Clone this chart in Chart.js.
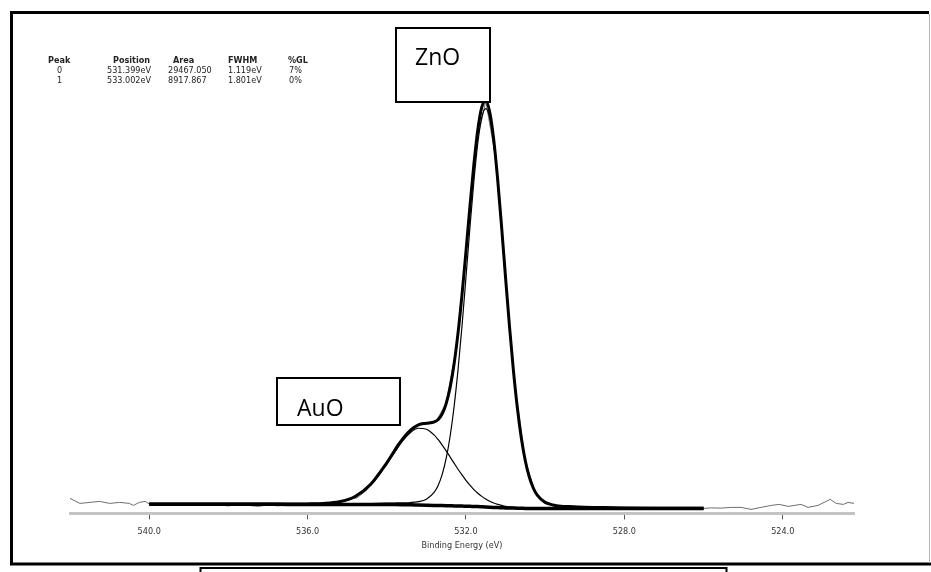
<!DOCTYPE html>
<html><head><meta charset="utf-8">
<script src="https://cdn.jsdelivr.net/npm/chart.js@4/dist/chart.umd.min.js"></script>
<style>
html,body{margin:0;padding:0;background:#fff;}
#wrap{position:relative;width:931px;height:572px;}
canvas{display:block;}
</style></head><body>
<div id="wrap"><canvas id="c" width="931" height="572"></canvas></div>
<script>
// ---- data (binding energy in eV, intensity in counts) ----
const modelEnergy = [540,539,538,537,536.5,536,535.6,535.2,534.8,534.4,534.0,533.8,533.6,533.4,533.2,533.0,532.8,532.7,532.6,532.5,532.4,532.3,532.2,532.1,532.0,531.9,531.8,531.7,531.6,531.5,531.4,531.3,531.2,531.1,531.0,530.9,530.8,530.7,530.6,530.5,530.4,530.3,530.2,530.0,529.8,529.6,529.4,529.0,528.5,528,527,526];
const backgroundCounts = [92,92,91,91,90,90,90,90,90,89,89,88,87,86,84,82,80,79,78,77,76,75,74,73,72,71,69,68,66,64,62,60,58,57,55,54,53,52,51,50,50,50,50,50,50,49,49,49,49,48,48,48];
const peak0ZnOCounts = [93,94,93,94,94,94,95,96,98,99,102,104,106,109,118,142,212,282,390,549,771,1066,1436,1873,2357,2855,3319,3703,3956,4044,3952,3695,3308,2841,2340,1854,1415,1043,746,522,362,253,182,110,84,72,68,62,59,55,52,51];
const peak1AuOCounts = [92,92,91,91,90,91,94,110,161,283,492,612,724,809,851,841,782,736,683,625,564,502,441,384,330,282,238,202,170,143,121,104,90,80,71,65,60,57,54,52,51,51,50,50,50,49,49,49,49,48,48,48];
const envelopeCounts = [93,94,93,94,94,95,99,116,169,293,505,628,743,832,885,901,914,939,995,1097,1259,1493,1803,2184,2615,3066,3488,3837,4060,4123,4011,3739,3340,2864,2356,1865,1422,1048,749,524,363,254,182,110,84,72,68,62,59,55,52,51];
const rawEnergy = [542.0,541.75,541.5,541.25,541.0,540.75,540.5,540.4,540.25,540.1,540.0,539.75,539.5,539.25,539.0,538.75,538.5,538.25,538.0,537.75,537.5,537.25,537.0,536.75,536.5,536.25,536.0,535.75,535.5,535.25,535.0,534.75,534.5,534.25,534.0,533.75,533.5,533.25,533.0,532.75,532.5,532.25,532.0,531.75,531.5,531.25,531.0,530.75,530.5,530.25,530.0,529.75,529.5,529.25,529.0,528.75,528.5,528.25,528.0,527.75,527.5,527.25,527.0,526.75,526.5,526.25,526.0,525.8,525.56,525.3,525.05,524.8,524.55,524.29,524.09,523.86,523.54,523.36,523.11,522.8,522.65,522.47,522.35,522.2];
const rawCounts = [150,100,110,120,100,110,100,80,110,120,95,90,85,95,90,80,95,85,75,90,80,70,85,75,90,80,95,90,105,115,140,155,235,385,505,685,790,875,905,925,1100,1640,2610,3670,4120,3550,2350,1230,520,215,110,80,70,60,65,55,60,50,60,55,50,60,45,55,50,60,50,55,53,60,60,40,60,80,90,70,90,60,80,140,100,90,110,100];
const tickValues = [540,536,532,528,524];
const axisTitle = 'Binding Energy (eV)';
const tableHeader = ['Peak','Position','Area','FWHM','%GL'];
const tableRows = [
  ['0','531.399eV','29467.050','1.119eV','7%'],
  ['1','533.002eV','8917.867','1.801eV','0%']
];
const peakLabels = ['ZnO','AuO'];

// ---- build chart ----
const pts = (xs, ys) => xs.map((x, i) => ({x: x, y: ys[i]}));
const NARROW = '"Liberation Sans Narrow","DejaVu Sans Condensed","Arial Narrow",sans-serif';
const BOXFONT = '"Open Sans","Noto Sans",sans-serif';

const decor = {
  id: 'decor',
  beforeDraw(chart) {
    const ctx = chart.ctx;
    ctx.save(); ctx.fillStyle = '#fff'; ctx.fillRect(0, 0, chart.width, chart.height); ctx.restore();
  },
  afterDraw(chart) {
    const ctx = chart.ctx;
    ctx.save();
    // fit-result table
    ctx.fillStyle = '#222';
    ctx.textBaseline = 'alphabetic';
    ctx.textAlign = 'left';
    const hx = [48, 113, 173, 228, 288];
    const rx = [57, 107, 168, 228, 289];
    ctx.font = 'bold 9px ' + NARROW;
    tableHeader.forEach((t, i) => ctx.fillText(t, hx[i], 63));
    ctx.font = '9px ' + NARROW;
    tableRows.forEach((row, j) => row.forEach((t, i) => ctx.fillText(t, rx[i], 73 + 10 * j)));

    // annotation boxes
    const boxes = [
      {x: 396, y: 28, w: 94, h: 74, tx: 415, ty: 65},
      {x: 277, y: 378, w: 123, h: 47, tx: 297, ty: 416}
    ];
    boxes.forEach((b, i) => {
      ctx.fillStyle = '#fff';
      ctx.fillRect(b.x, b.y, b.w, b.h);
      ctx.strokeStyle = '#000'; ctx.lineWidth = 2;
      ctx.strokeRect(b.x, b.y, b.w, b.h);
      ctx.fillStyle = '#000';
      ctx.font = '23px ' + BOXFONT;
      ctx.fillText(peakLabels[i], b.tx, b.ty);
    });

    // outer frame
    ctx.strokeStyle = '#000'; ctx.lineWidth = 3; ctx.lineCap = 'butt';
    ctx.beginPath();
    ctx.moveTo(10, 12.5); ctx.lineTo(929, 12.5);
    ctx.moveTo(11.5, 11); ctx.lineTo(11.5, 565.5);
    ctx.moveTo(10, 564); ctx.lineTo(931, 564);
    ctx.stroke();
    ctx.strokeStyle = '#b4b4b4'; ctx.lineWidth = 1;
    ctx.beginPath(); ctx.moveTo(929.5, 14); ctx.lineTo(929.5, 563); ctx.stroke();
    // lower box top edge
    ctx.strokeStyle = '#000'; ctx.lineWidth = 2;
    ctx.beginPath();
    ctx.moveTo(200, 568); ctx.lineTo(727, 568);
    ctx.moveTo(200.5, 567); ctx.lineTo(200.5, 572);
    ctx.moveTo(726.5, 567); ctx.lineTo(726.5, 572);
    ctx.stroke();
    ctx.restore();
  }
};

new Chart(document.getElementById('c'), {
  type: 'line',
  data: {
    datasets: [
      {label: 'Envelope', data: pts(modelEnergy, envelopeCounts), borderColor: '#000', borderWidth: 3, pointRadius: 0, cubicInterpolationMode: 'monotone', fill: false, order: 0},
      {label: 'Peak 0', data: pts(modelEnergy, peak0ZnOCounts), borderColor: '#000', borderWidth: 1.2, pointRadius: 0, cubicInterpolationMode: 'monotone', fill: false, order: 1},
      {label: 'Peak 1', data: pts(modelEnergy, peak1AuOCounts), borderColor: '#000', borderWidth: 1.2, pointRadius: 0, cubicInterpolationMode: 'monotone', fill: false, order: 1},
      {label: 'Background', data: pts(modelEnergy, backgroundCounts), borderColor: '#000', borderWidth: 3.5, pointRadius: 0, cubicInterpolationMode: 'monotone', fill: false, order: 2},
      {label: 'Raw', data: pts(rawEnergy, rawCounts), borderColor: '#6e6e6e', borderWidth: 1, pointRadius: 0, tension: 0, fill: false, order: 3}
    ]
  },
  options: {
    responsive: false,
    animation: false,
    devicePixelRatio: 1,
    layout: {padding: {left: 70, right: 77, top: 20, bottom: 21}},
    plugins: {legend: {display: false}, tooltip: {enabled: false}},
    scales: {
      x: {
        type: 'linear', reverse: true, min: 522.2, max: 542,
        afterBuildTicks: s => { s.ticks = tickValues.map(v => ({value: v})); },
        ticks: {callback: v => Number(v).toFixed(1), font: {family: NARROW, size: 9}, color: '#333', padding: 7, maxRotation: 0, autoSkip: false},
        grid: {display: true, drawOnChartArea: false, drawTicks: true, tickLength: 6, color: '#555', lineWidth: 1},
        border: {display: true, color: '#c4c4c4', width: 3},
        title: {display: true, text: axisTitle, font: {family: NARROW, size: 9}, color: '#333', padding: {top: -4, bottom: 0}}
      },
      y: {display: false, min: 0, max: 4930}
    }
  },
  plugins: [decor]
});
</script>
</body></html>
